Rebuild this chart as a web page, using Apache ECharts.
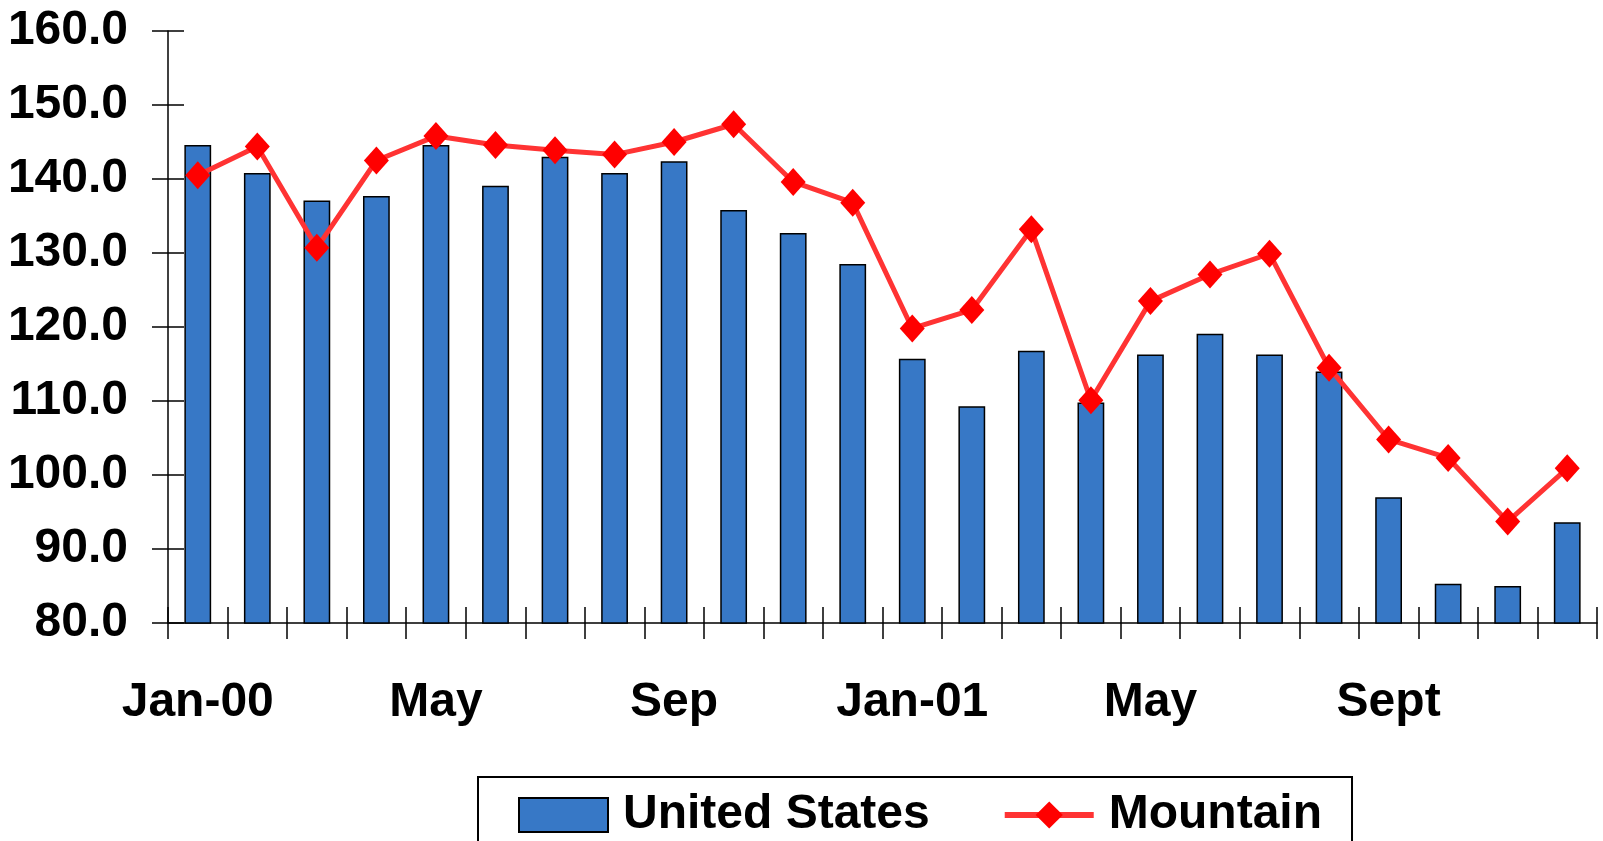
<!DOCTYPE html>
<html>
<head>
<meta charset="utf-8">
<script src="https://cdn.jsdelivr.net/npm/echarts@6/dist/echarts.min.js"></script>
<style>
  html, body { margin: 0; padding: 0; background: #fff; }
  #chart { width: 1603px; height: 841px; }
</style>
</head>
<body>
<div id="chart"></div>
<script>
// months on the x axis, only some get a label
var months = ['Jan-00', 'Feb-00', 'Mar-00', 'Apr-00', 'May-00', 'Jun-00', 'Jul-00', 'Aug-00',
    'Sep-00', 'Oct-00', 'Nov-00', 'Dec-00', 'Jan-01', 'Feb-01', 'Mar-01', 'Apr-01',
    'May-01', 'Jun-01', 'Jul-01', 'Aug-01', 'Sep-01', 'Oct-01', 'Nov-01', 'Dec-01'];
var tickLabels = ['Jan-00', '', '', '', 'May', '', '', '', 'Sep', '', '', '',
    'Jan-01', '', '', '', 'May', '', '', '', 'Sept', '', '', ''];
var usValues = [144.6, 140.8, 137.1, 137.7, 144.6, 139.1, 143.0, 140.8, 142.4, 135.8, 132.7, 128.5,
    115.7, 109.3, 116.8, 109.8, 116.3, 119.1, 116.3, 114.0, 97.0, 85.3, 85.0, 93.6];
var mountainValues = [140.5, 144.4, 130.7, 142.5, 145.8, 144.6, 143.9, 143.3, 145.0, 147.4, 139.6, 136.8,
    119.8, 122.3, 133.2, 110.1, 123.5, 127.1, 129.9, 114.5, 104.8, 102.3, 93.7, 100.9];
var yMin = 80, yMax = 160, yStep = 10;

var font = '"Liberation Sans", Arial, sans-serif';
var myChart = echarts.init(document.getElementById('chart'));

var option = {
    animation: false,
    backgroundColor: '#fff',
    grid: { left: 168, right: 6, top: 31, bottom: 218, containLabel: false },
    legend: {
        left: 478,
        top: 777,
        padding: [14, 30, 40, 40],
        borderColor: '#000',
        borderWidth: 2,
        itemWidth: 89,
        itemHeight: 34,
        itemGap: 72,
        textStyle: {
            fontFamily: font, fontWeight: 'bold', fontSize: 48, color: '#000',
            padding: [0, 0, 0, 10]
        },
        data: [
            { name: 'United States', icon: 'rect' },
            { name: 'Mountain' }
        ],
        lineStyle: { width: 6 }
    },
    xAxis: [
        {
            type: 'category',
            data: months,
            boundaryGap: true,
            axisLine: { lineStyle: { color: '#000', width: 1.5 } },
            axisTick: { show: true, interval: 0, length: 16, lineStyle: { color: '#000', width: 1.5 } },
            axisLabel: {
                interval: 0,
                margin: 56,
                fontFamily: font, fontWeight: 'bold', fontSize: 48, color: '#000',
                formatter: function (v, i) { return tickLabels[i]; }
            }
        },
        {
            // second axis only to draw the inner half of the crossing ticks
            type: 'category',
            data: months,
            position: 'bottom',
            boundaryGap: true,
            axisLine: { show: false },
            axisTick: { show: true, inside: true, interval: 0, length: 16, lineStyle: { color: '#000', width: 1.5 } },
            axisLabel: { show: false }
        }
    ],
    yAxis: [
        {
            type: 'value',
            min: yMin, max: yMax, interval: yStep,
            axisLine: { show: true, lineStyle: { color: '#000', width: 1.5 } },
            axisTick: { show: true, length: 16, lineStyle: { color: '#000', width: 1.5 } },
            splitLine: { show: false },
            axisLabel: {
                margin: 40,
                fontFamily: font, fontWeight: 'bold', fontSize: 48, color: '#000',
                formatter: function (v) { return v.toFixed(1); }
            }
        },
        {
            type: 'value',
            position: 'left',
            min: yMin, max: yMax, interval: yStep,
            axisLine: { show: false },
            axisTick: { show: true, inside: true, length: 16, lineStyle: { color: '#000', width: 1.5 } },
            splitLine: { show: false },
            axisLabel: { show: false }
        }
    ],
    series: [
        {
            name: 'United States',
            type: 'bar',
            barWidth: '45%',
            itemStyle: { color: '#3778c6', borderColor: '#000', borderWidth: 1.5 },
            data: usValues
        },
        {
            name: 'Mountain',
            type: 'line',
            symbol: 'diamond',
            symbolSize: [25, 28],
            lineStyle: { color: '#ff3333', width: 5 },
            itemStyle: { color: '#ff0000' },
            data: mountainValues
        }
    ]
};
option && myChart.setOption(option);
</script>
</body>
</html>
